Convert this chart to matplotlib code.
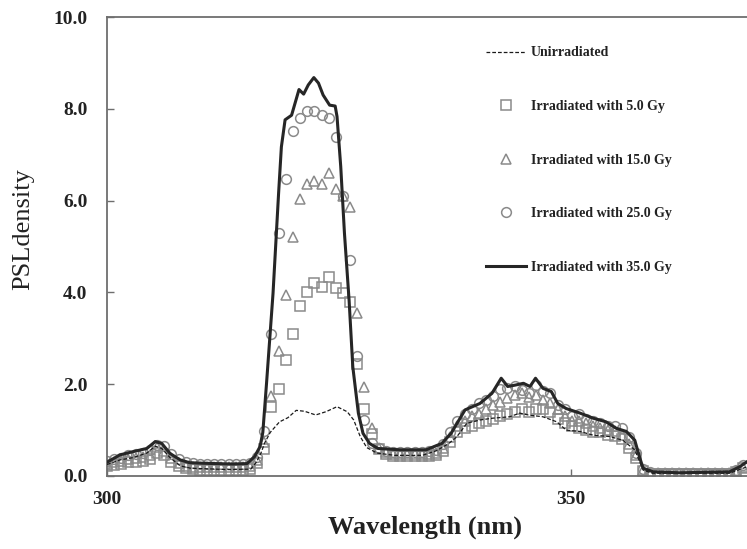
import numpy as np
import matplotlib
matplotlib.use("Agg")
import matplotlib.pyplot as plt

# sample wavelengths of the marker series (nm)
WL_START = 300.0
WL_STEP = 0.771
N_POINTS = 90
wavelength = WL_START + WL_STEP * np.arange(N_POINTS)

# 5.0 Gy (squares)
gy5 = [0.22, 0.25, 0.27, 0.30, 0.31, 0.33, 0.38, 0.50, 0.45, 0.30,
       0.22, 0.17, 0.15, 0.14, 0.14, 0.14, 0.14, 0.14, 0.14, 0.14,
       0.16, 0.28, 0.58, 1.51, 1.89, 2.53, 3.09, 3.70, 4.01, 4.21,
       4.11, 4.33, 4.09, 3.98, 3.78, 2.45, 1.46, 0.92, 0.58, 0.47,
       0.44, 0.44, 0.44, 0.44, 0.44, 0.44, 0.45, 0.55, 0.75, 0.95,
       1.05, 1.10, 1.15, 1.20, 1.25, 1.30, 1.35, 1.40, 1.45, 1.40,
       1.45, 1.45, 1.40, 1.25, 1.15, 1.10, 1.05, 1.00, 0.95, 0.95,
       0.90, 0.88, 0.80, 0.60, 0.40, 0.10, 0.05, 0.05, 0.05, 0.05,
       0.05, 0.05, 0.05, 0.05, 0.05, 0.05, 0.05, 0.05, 0.09, 0.18]

# 15.0 Gy (triangles)
gy15 = [0.27, 0.30, 0.33, 0.38, 0.40, 0.42, 0.46, 0.64, 0.55, 0.40,
        0.28, 0.22, 0.20, 0.19, 0.19, 0.19, 0.19, 0.19, 0.19, 0.19,
        0.21, 0.35, 0.73, 1.74, 2.72, 3.94, 5.21, 6.03, 6.36, 6.43,
        6.36, 6.61, 6.26, 6.09, 5.85, 3.55, 1.94, 1.05, 0.62, 0.52,
        0.48, 0.48, 0.48, 0.48, 0.48, 0.48, 0.50, 0.60, 0.85, 1.10,
        1.20, 1.30, 1.35, 1.45, 1.55, 1.62, 1.70, 1.76, 1.80, 1.72,
        1.76, 1.66, 1.60, 1.45, 1.30, 1.20, 1.20, 1.15, 1.10, 1.05,
        1.00, 0.98, 0.90, 0.70, 0.45, 0.12, 0.06, 0.06, 0.06, 0.06,
        0.06, 0.06, 0.06, 0.06, 0.06, 0.06, 0.06, 0.06, 0.11, 0.20]

# 25.0 Gy (circles)
gy25 = [0.33, 0.36, 0.40, 0.45, 0.48, 0.50, 0.56, 0.68, 0.66, 0.47,
        0.36, 0.30, 0.28, 0.27, 0.27, 0.27, 0.26, 0.26, 0.26, 0.27,
        0.28, 0.42, 0.98, 3.09, 5.30, 6.48, 7.51, 7.79, 7.95, 7.96,
        7.86, 7.81, 7.39, 6.09, 4.71, 2.61, 1.22, 0.71, 0.60, 0.55,
        0.53, 0.52, 0.52, 0.52, 0.53, 0.55, 0.56, 0.70, 0.95, 1.20,
        1.35, 1.45, 1.60, 1.65, 1.75, 1.90, 1.92, 1.95, 1.88, 1.80,
        1.98, 1.85, 1.80, 1.55, 1.45, 1.30, 1.35, 1.25, 1.20, 1.15,
        1.10, 1.10, 1.05, 0.85, 0.50, 0.15, 0.08, 0.07, 0.07, 0.07,
        0.07, 0.07, 0.07, 0.07, 0.07, 0.07, 0.07, 0.07, 0.13, 0.25]

# 35.0 Gy (solid line)
wl_35 = [300.0, 301.4, 302.8, 304.3, 305.2, 305.9, 306.8, 307.9, 308.9, 310.0,
         313.6, 315.1, 315.9, 316.5, 316.8, 317.2, 317.9, 318.5, 318.8, 319.2,
         319.9, 320.7, 321.2, 321.7, 322.3, 322.8, 323.3, 324.0, 324.6, 324.8,
         325.2, 325.6, 326.1, 326.5, 327.1, 327.6, 328.3, 329.2, 331.6, 334.4,
         336.1, 337.1, 338.6, 340.2, 341.5, 342.5, 343.2, 344.0, 344.9, 345.6,
         346.2, 347.0, 347.9, 348.6, 349.5, 351.0, 352.4, 353.8, 354.9, 356.0,
         356.9, 357.4, 357.8, 358.9, 361.7, 367.1, 368.2, 369.0]
gy35 = [0.30, 0.46, 0.53, 0.60, 0.75, 0.71, 0.49, 0.35, 0.29, 0.28,
        0.26, 0.27, 0.42, 0.64, 0.95, 2.02, 3.98, 6.16, 7.17, 7.76,
        7.86, 8.42, 8.32, 8.52, 8.68, 8.56, 8.30, 8.08, 8.06, 7.83,
        6.74, 5.29, 3.83, 2.38, 1.37, 0.93, 0.71, 0.60, 0.57, 0.57,
        0.71, 0.93, 1.44, 1.58, 1.80, 2.13, 1.95, 1.98, 2.02, 1.95,
        2.13, 1.91, 1.84, 1.58, 1.47, 1.37, 1.26, 1.18, 1.04, 0.97,
        0.78, 0.42, 0.17, 0.09, 0.07, 0.09, 0.20, 0.31]

# unirradiated (dashed line)
wl_0 = [300.0, 301.4, 302.8, 304.3, 305.2, 305.9, 306.8, 307.9, 309.0, 313.0,
        315.5, 316.1, 316.6, 317.0, 317.6, 318.6, 319.5, 320.4, 321.3, 322.5,
        323.6, 324.8, 325.9, 326.6, 327.3, 328.0, 329.1, 331.0, 334.0, 335.5,
        336.8, 337.7, 338.8, 340.2, 341.6, 343.4, 344.5, 345.4, 347.0, 348.5,
        349.5, 351.0, 352.4, 354.2, 355.6, 356.9, 357.8, 358.8, 367.1, 369.0]
gy0 = [0.25, 0.35, 0.40, 0.50, 0.65, 0.60, 0.40, 0.22, 0.17, 0.14,
       0.15, 0.30, 0.50, 0.72, 0.95, 1.18, 1.27, 1.43, 1.41, 1.33,
       1.40, 1.51, 1.40, 1.22, 0.86, 0.62, 0.50, 0.45, 0.45, 0.55,
       0.70, 0.85, 1.15, 1.22, 1.26, 1.29, 1.37, 1.33, 1.29, 1.18,
       1.00, 0.97, 0.89, 0.86, 0.78, 0.57, 0.13, 0.06, 0.06, 0.20]

labels = ["Unirradiated", "Irradiated with 5.0 Gy", "Irradiated with 15.0 Gy",
          "Irradiated with 25.0 Gy", "Irradiated with 35.0 Gy"]

SERIF = ["Liberation Serif", "DejaVu Serif"]
MARK = "#8a8a8a"
SPINE = "#6e6e6e"

fig = plt.figure(figsize=(7.47, 5.49), dpi=100)
ax = fig.add_axes([107 / 747, 73 / 549, 640 / 747, 459 / 549])

mk = dict(linestyle="none", markerfacecolor="none", markeredgecolor=MARK,
          markersize=7, markeredgewidth=1.1)
h0, = ax.plot(wl_0, gy0, color="#1a1a1a", lw=0.9, ls=(0, (3, 1.6)), zorder=4)
h5, = ax.plot(wavelength, gy5, marker="s", **mk)
h15, = ax.plot(wavelength, gy15, marker="^", **mk)
h25, = ax.plot(wavelength, gy25, marker="o", **mk)
h35, = ax.plot(wl_35, gy35, color="#262626", lw=2.2, zorder=5)

ax.set_xlim(300, 369)
ax.set_ylim(0, 10)
ax.set_xticks([300, 350])
ax.set_yticks(np.arange(0, 10.1, 2))
ax.set_yticklabels(["%.1f" % v for v in np.arange(0, 10.1, 2)])
ax.tick_params(direction="in", length=5, width=1, color=SPINE)
ax.tick_params(axis="y", pad=14)
ax.tick_params(axis="x", pad=11)
for lab in ax.get_xticklabels() + ax.get_yticklabels():
    lab.set_family(SERIF)
    lab.set_fontweight("bold")
    lab.set_fontsize(14)
    lab.set_color("#222222")

ax.spines["right"].set_visible(False)
for s in ["left", "top", "bottom"]:
    ax.spines[s].set_color(SPINE)
    ax.spines[s].set_linewidth(1.3)

ax.set_xlabel("Wavelength (nm)", family=SERIF, fontweight="bold", fontsize=19,
              color="#222222")
ax.xaxis.set_label_coords(0.497, -0.087)
ax.set_ylabel("PSLdensity", family=SERIF, fontsize=19, color="#222222")
ax.yaxis.set_label_coords(-0.113, 0.538)

leg = ax.legend([h0, h5, h15, h25, h35], labels, loc="upper left",
                bbox_to_anchor=(0.581, 0.951), frameon=False, borderpad=0,
                labelspacing=2.92, handlelength=2.9, handletextpad=0.36,
                prop=dict(family=SERIF, weight="bold", size=10))
for t in leg.get_texts():
    t.set_color("#222222")

fig.savefig("out.png", dpi=100)
